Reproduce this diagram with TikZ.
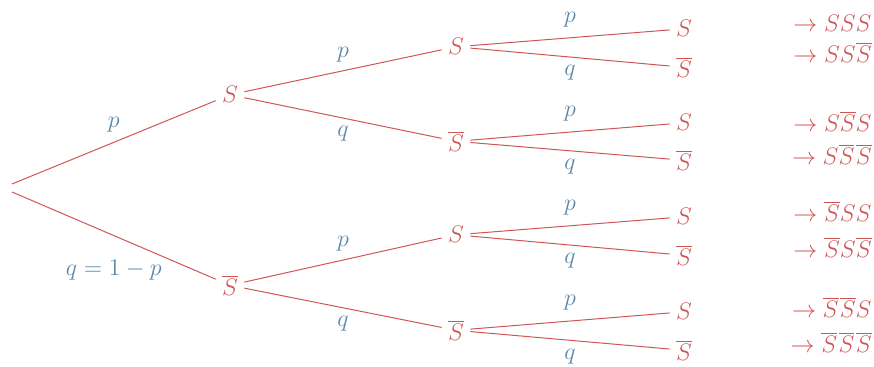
\documentclass[tikz,border=0pt]{standalone}
\usepackage{amsmath,amssymb}
\usepackage{xcolor}
\usepackage{tikz}
\usetikzlibrary{arrows.meta,positioning}
\definecolor{rouge}{RGB}{208,86,86}
\definecolor{bleu}{RGB}{92,136,168}
\newcommand{\nonS}{\overline{S}}
\tikzset{
    etat/.style={
        text=rouge,
        inner sep=3pt,
        anchor=base,
        font=\fontsize{12.5}{15}\selectfont
    },
    proba/.style={
        text=bleu,
        inner sep=2pt,
        font=\fontsize{12.5}{15}\selectfont
    },
    resultat/.style={etat, inner sep=0pt, anchor=base east},
    branche/.style={draw=rouge, line width=0.5pt}
}

\begin{document}
\begin{tikzpicture}[x=0.5pt, y=-0.5pt]
        \useasboundingbox (0,0) rectangle (874,367);
        % racine et premier tirage
        \coordinate (racineh) at (12,184);
        \coordinate (racineb) at (12,192);
        \node[etat] (s) at (230,103) {$S$};
        \node[etat] (sb) at (230,296) {$\nonS$};
        % deuxieme tirage
        \node[etat] (ss) at (456,55) {$S$};
        \node[etat] (ssb) at (456,152) {$\nonS$};
        \node[etat] (sbs) at (456,243) {$S$};
        \node[etat] (sbsb) at (456,341) {$\nonS$};
        % troisieme tirage
        \node[etat] (sss) at (684,37) {$S$};
        \node[etat] (sssb) at (684,78) {$\nonS$};
        \node[etat] (ssbs) at (684,131) {$S$};
        \node[etat] (ssbsb) at (684,171) {$\nonS$};
        \node[etat] (sbss) at (684,225) {$S$};
        \node[etat] (sbssb) at (684,266) {$\nonS$};
        \node[etat] (sbsbs) at (684,320) {$S$};
        \node[etat] (sbsbsb) at (684,361) {$\nonS$};
        % issues
        \node[resultat] (r1) at (872,32) {$\to SSS$};
        \node[resultat] (r2) at (872,63) {$\to SS\nonS$};
        \node[resultat] (r3) at (872,132) {$\to S\nonS S$};
        \node[resultat] (r4) at (872,165) {$\to S\nonS\mkern1mu\nonS$};
        \node[resultat] (r5) at (872,222) {$\to \nonS SS$};
        \node[resultat] (r6) at (872,258) {$\to \nonS S\nonS$};
        \node[resultat] (r7) at (872,318) {$\to \nonS\mkern1mu\nonS S$};
        \node[resultat] (r8) at (872,353) {$\to \nonS\mkern1mu\nonS\mkern1mu\nonS$};

        \draw[branche] (racineh) -- node[proba, above=3pt] {$p$} (s);
        \draw[branche] (racineb) -- node[proba, below=10pt] {$q = 1 - p$} (sb);
        \draw[branche] (s) -- node[proba, above=2pt] {$p$} (ss);
        \draw[branche] (s) -- node[proba, below=2pt] {$q$} (ssb);
        \draw[branche] (sb) -- node[proba, above=2pt] {$p$} (sbs);
        \draw[branche] (sb) -- node[proba, below=2pt] {$q$} (sbsb);
        \draw[branche] (ss) -- node[proba, above=3pt] {$p$} (sss);
        \draw[branche] (ss) -- node[proba, below=2pt] {$q$} (sssb);
        \draw[branche] (ssb) -- node[proba, above=3pt] {$p$} (ssbs);
        \draw[branche] (ssb) -- node[proba, below=2pt] {$q$} (ssbsb);
        \draw[branche] (sbs) -- node[proba, above=3pt] {$p$} (sbss);
        \draw[branche] (sbs) -- node[proba, below=2pt] {$q$} (sbssb);
        \draw[branche] (sbsb) -- node[proba, above=3pt] {$p$} (sbsbs);
        \draw[branche] (sbsb) -- node[proba, below=2pt] {$q$} (sbsbsb);
    \end{tikzpicture}
\end{document}
